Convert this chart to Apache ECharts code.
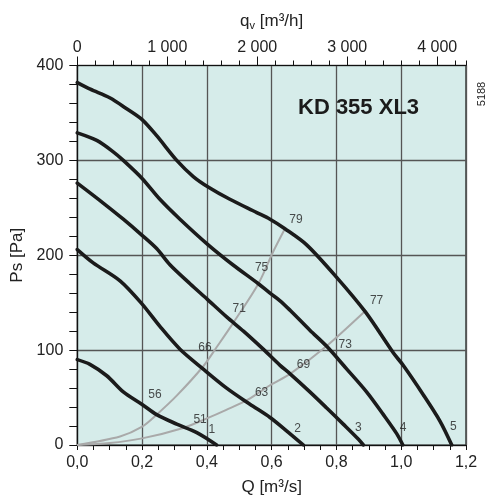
<!DOCTYPE html>
<html>
<head>
<meta charset="utf-8">
<script src="https://cdn.jsdelivr.net/npm/echarts@6/dist/echarts.min.js"></script>
<style>
html,body{margin:0;padding:0;background:#fff;}
#c{width:488px;height:501px;}
</style>
</head>
<body>
<div id="c"></div>
<script>
// Fan curves: [Q m3/s, Ps Pa]
const curve1 = [[0,90],[0.039,85],[0.091,73],[0.142,56],[0.199,43],[0.245,32],[0.307,22],[0.369,13],[0.43,0]];
const curve2 = [[0,206],[0.049,192],[0.132,173],[0.199,149],[0.255,125],[0.317,101],[0.389,80],[0.461,60],[0.533,43],[0.595,29],[0.646,15],[0.698,0]];
const curve3 = [[0,276],[0.08,255],[0.142,238],[0.2,221],[0.245,207],[0.286,190],[0.348,170],[0.4,154],[0.461,135],[0.513,120],[0.574,101],[0.626,84],[0.657,75],[0.718,56],[0.77,39],[0.821,22],[0.868,6],[0.883,0]];
const curve4 = [[0,329],[0.06,321],[0.111,309],[0.142,300],[0.2,281],[0.255,259],[0.317,238],[0.404,211],[0.48,190],[0.559,170],[0.595,160],[0.626,152],[0.657,142],[0.718,121],[0.77,104],[0.832,80],[0.893,56],[0.945,32],[0.986,12],[1.005,0]];
const curve5 = [[0,382],[0.04,375],[0.1,366],[0.15,355],[0.2,343],[0.245,326],[0.307,300],[0.358,283],[0.404,272],[0.471,259],[0.554,245],[0.595,238],[0.641,228],[0.708,211],[0.8,177],[0.89,140],[0.976,97],[1.006,84],[1.068,53],[1.12,25],[1.156,0]];
// Efficiency/system lines (grey)
const greyA = [[0,0],[0.132,9],[0.199,19],[0.245,32],[0.307,52],[0.389,83],[0.43,103],[0.482,129],[0.559,170],[0.605,204],[0.641,228]];
const greyB = [[0,0],[0.1,2],[0.2,7],[0.327,18],[0.4,28],[0.46,37],[0.528,48],[0.595,63],[0.657,75],[0.765,103],[0.888,141]];
// Text labels on the chart: [Q, Ps, text]
const pointLabels = [[0.24,53,'56'],[0.379,27,'51'],[0.415,16,'1'],[0.394,103,'66'],[0.5,144,'71'],[0.569,187,'75'],[0.569,55,'63'],[0.675,237,'79'],[0.698,85,'69'],[0.827,106,'73'],[0.924,152,'77'],[0.68,17,'2'],[0.868,18,'3'],[1.006,18,'4'],[1.161,19,'5']];
// Axes
const qMin = 0, qMax = 1.2, qStep = 0.2;
const psMin = 0, psMax = 400, psStep = 100;
const qvMax = 4320, qvStep = 1000, qvMinorStep = 200;
const titleText = 'KD 355 XL3';
const codeText = '5188';

const FONT = '"Liberation Sans", Arial, sans-serif';
const TXT = '#222';
const chart = echarts.init(document.getElementById('c'), null, {renderer:'canvas'});

function blackSeries(d){
  return {type:'line', data:d, xAxisIndex:0, yAxisIndex:0, smooth:0.3, showSymbol:false, symbol:'none',
    lineStyle:{color:'#1b1b1b', width:3.6, cap:'round'}, z:5, silent:true};
}
function greySeries(d){
  return {type:'line', data:d, xAxisIndex:0, yAxisIndex:0, smooth:0.3, showSymbol:false, symbol:'none',
    lineStyle:{color:'#a9a9a9', width:2}, z:4, silent:true};
}
function fmtThousands(v){
  if (v % 1000 !== 0) return '';
  if (v === 0) return '0';
  return (v/1000) + ' 000';
}

const option = {
  animation:false,
  grid:{left:77.3, right:22, top:65.5, bottom:46.5, show:true, backgroundColor:'#d6ecea', borderColor:'#111', borderWidth:1.2},
  xAxis:[
    {type:'value', position:'bottom', min:qMin, max:qMax, interval:qStep,
     name:'Q [m³/s]', nameLocation:'middle', nameGap:34, nameTextStyle:{fontSize:17, color:TXT, fontFamily:FONT},
     axisLine:{lineStyle:{color:'#111', width:1.2}},
     axisTick:{show:true, length:5, lineStyle:{color:'#111'}},
     minorTick:{show:true, splitNumber:4, length:5, lineStyle:{color:'#111'}},
     axisLabel:{fontSize:16, color:TXT, fontFamily:FONT, margin:10, formatter:v=>v.toFixed(1).replace('.',',')},
     splitLine:{show:true, lineStyle:{color:'#555', width:1.3}}},
    {type:'value', position:'top', min:0, max:qvMax, interval:qvStep,
     name:'{q|q}{v|v}{q| [m³/h]}', nameLocation:'middle', nameGap:34,
     nameTextStyle:{fontSize:17, color:TXT, fontFamily:FONT, rich:{q:{fontSize:17, color:TXT, fontFamily:FONT}, v:{fontSize:11, color:TXT, fontFamily:FONT, verticalAlign:'bottom', padding:[10,0,0,0]}}},
     axisLine:{lineStyle:{color:'#111', width:1.2}},
     axisTick:{show:true, length:9, lineStyle:{color:'#111'}},
     axisLabel:{fontSize:16, color:TXT, fontFamily:FONT, margin:10, showMaxLabel:false, formatter:fmtThousands},
     splitLine:{show:false}},
    {type:'value', position:'top', min:0, max:qvMax, interval:qvMinorStep,
     axisLine:{show:false},
     axisTick:{show:true, length:5, lineStyle:{color:'#111'}},
     axisLabel:{show:false},
     splitLine:{show:false}}
  ],
  yAxis:[
    {type:'value', min:psMin, max:psMax, interval:psStep,
     name:'Ps [Pa]', nameLocation:'middle', nameGap:51, nameTextStyle:{fontSize:17, color:TXT, fontFamily:FONT},
     axisLine:{show:true, lineStyle:{color:'#111', width:1.2}},
     axisTick:{show:true, length:8, lineStyle:{color:'#111'}},
     minorTick:{show:true, splitNumber:5, length:8, lineStyle:{color:'#111'}},
     axisLabel:{fontSize:16, color:TXT, fontFamily:FONT, margin:14},
     splitLine:{show:true, lineStyle:{color:'#555', width:1.3}}}
  ],
  graphic:[
    {type:'text', left:298, top:97, z:10, style:{text:titleText, fontSize:22, fontWeight:'bold', fill:'#1b1b1b', fontFamily:FONT}},
    {type:'text', x:481.5, y:94, rotation:Math.PI/2, z:10, style:{text:codeText, fontSize:11, fill:TXT, fontFamily:FONT, align:'center', verticalAlign:'middle'}}
  ],
  series:[
    greySeries(greyA), greySeries(greyB),
    blackSeries(curve1), blackSeries(curve2), blackSeries(curve3), blackSeries(curve4), blackSeries(curve5),
    {type:'scatter', data:pointLabels, xAxisIndex:0, yAxisIndex:0, symbolSize:0.1, itemStyle:{color:'rgba(0,0,0,0)'}, z:8, silent:true,
     label:{show:true, position:'inside', formatter:p=>p.data[2], fontSize:12, color:TXT, fontFamily:FONT}}
  ]
};
chart.setOption(option);
</script>
</body>
</html>
